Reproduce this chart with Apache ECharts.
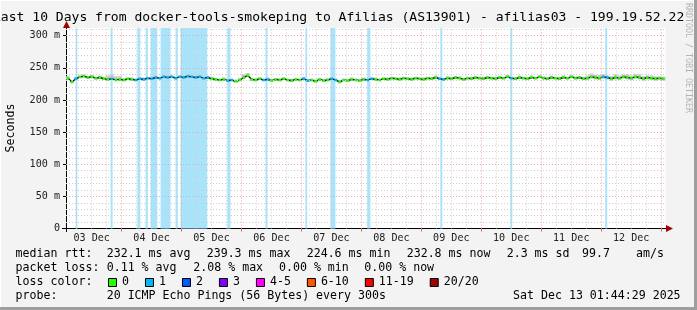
<!DOCTYPE html>
<html><head><meta charset="utf-8">
<script src="https://cdn.jsdelivr.net/npm/echarts@6/dist/echarts.min.js"></script>
<style>html,body{margin:0;padding:0;background:#f3f3f3;}#c{width:697px;height:310px;}</style>
</head><body><div id="c"></div>
<script>
// ---------------- data ----------------
const titleText = 'Last 10 Days from docker-tools-smokeping to Afilias (AS13901) - afilias03 - 199.19.52.22';
const watermarkText = 'RRDTOOL / TOBI OETIKER';
const yAxisName = 'Seconds';
const dayLabels = ['03 Dec','04 Dec','05 Dec','06 Dec','07 Dec','08 Dec','09 Dec','10 Dec','11 Dec','12 Dec'];
const dayLabelHours = [12,36,60,84,108,132,156,180,204,228];   // hours since 03 Dec 00:00 (noon)
const midnightHours = [24,48,72,96,120,144,168,192,216,240];
const yTicks = [0,50,100,150,200,250,300];                       // ms
const xMin = 1.74, xMax = 241.74;                                // 03 Dec 01:44 .. 13 Dec 01:44
const yMin = 0, yMax = 312;

const sampleStartHour = 2.5, sampleStepHour = 1.6;
const medianRtt = [
 234,228,233,236,237,235,236,234,235,233,
 232,233,231,232,231,233,232,231,233,232,
 234,233,235,234,236,235,236,234,236,235,
 237,236,235,236,234,235,233,232,231,232,
 230,231,229,231,235,238,232,231,233,231,
 232,230,232,231,233,231,230,232,231,233,
 230,231,229,232,230,231,233,231,228,231,
 230,232,231,230,232,231,233,232,231,233,
 232,234,233,232,234,233,232,234,233,232,
 234,233,235,233,232,234,233,235,234,232,
 234,233,235,234,233,235,234,233,235,234,
 236,234,233,235,234,233,235,234,236,234,
 233,235,234,233,235,234,236,234,235,233,
 234,236,235,234,236,235,233,235,234,236,
 235,234,236,235,233,235,234,233,234,233
];
const smokeUp = [
 3,2,3,2,3,2,3,2,3,3, 6,7,6,5,3,2,3,2,2,3, 2,3,2,2,3,2,2,3,2,2, 3,2,2,3,2,2,3,2,2,3,
 2,2,3,3,5,4,2,3,2,2, 3,2,2,3,2,2,3,2,2,3, 2,2,3,2,2,3,2,2,3,2, 2,3,2,2,3,2,2,3,2,2,
 3,2,2,3,2,2,3,2,2,3, 2,2,3,2,2,3,2,2,3,2, 2,3,2,2,3,2,2,3,2,2, 3,2,2,3,2,2,3,2,2,3,
 2,3,2,3,3,2,3,3,2,3, 4,5,4,5,4,3,4,5,4,4, 5,4,4,5,4,3,4,4,3,3
];
const smokeDown = [
 2,2,2,2,2,2,2,2,2,2, 2,2,2,2,2,2,2,2,2,2, 2,2,2,2,2,2,2,2,2,2, 2,2,2,2,2,2,2,2,2,2,
 2,2,2,2,2,2,2,2,2,2, 2,2,2,2,2,2,2,2,2,2, 2,2,2,2,2,2,2,2,2,2, 2,2,2,2,2,2,2,2,2,2,
 2,2,2,2,2,2,2,2,2,2, 2,2,2,2,2,2,2,2,2,2, 2,2,2,2,2,2,2,2,2,2, 2,2,2,2,2,2,2,2,2,2,
 2,2,2,2,2,2,2,2,2,2, 3,3,3,3,3,3,3,3,3,3, 3,3,3,3,3,3,3,3,3,3
];
// loss bars (hours since 03 Dec 00:00)
const lossStart = [5.6,19.6,30.3,33.6,35.6,39.6,45.6,47.6,66.3,81.6,97.6,107.6,122.3,151.6,179.6,217.6];
const lossEnd   = [6.3,20.4,31.5,34.5,38.3,43.6,46.5,58.3,67.6,82.4,98.3,109.6,123.6,152.4,180.4,218.4];

const lossLabels = ['0','1','2','3','4-5','6-10','11-19','20/20'];
const lossColors = ['#26ff00','#00b8ff','#0059ff','#7e00ff','#ff00ff','#ff5500','#ff0000','#a10000'];
const rttItems = ['232.1 ms avg','239.3 ms max','224.6 ms min','232.8 ms now','2.3 ms sd','99.7','am/s'];
const lossItems = ['0.11 % avg','2.08 % max','0.00 % min','0.00 % now'];
const probeText = '20 ICMP Echo Pings (56 Bytes) every 300s';
const dateText = 'Sat Dec 13 01:44:29 2025';

// ---------------- chart ----------------
const MONO = '"DejaVu Sans Mono", monospace';
const chart = echarts.init(document.getElementById('c'), null, {renderer:'canvas', width:697, height:310});

const sampleHours = medianRtt.map((_, i) => sampleStartHour + i * sampleStepHour);
const inLoss = h => lossStart.some((s, k) => h + sampleStepHour / 2 > s && h - sampleStepHour / 2 < lossEnd[k]);
const smokeData = medianRtt.map((m, i) => [sampleHours[i], m - smokeDown[i], m + smokeUp[i]]);
const medianData = medianRtt.map((m, i) => [sampleHours[i], m, inLoss(sampleHours[i]) ? 1 : 0]);
const lineData = medianRtt.map((m, i) => [sampleHours[i], m]);

const hMinor = [], hMajor = [], vMinor = [];
for (let v = 10; v <= 310; v += 10) (v % 50 === 0 ? hMajor : hMinor).push(v);
for (let h = 6; h < xMax; h += 6) if (h % 24 !== 0) vMinor.push(h);

const GRID_GRAY = '#cfcfcf', GRID_RED = '#eca3a3';
const gridLines = [
  ...hMinor.map(v => ({yAxis: v, lineStyle: {color: GRID_GRAY}})),
  ...vMinor.map(h => ({xAxis: h, lineStyle: {color: GRID_GRAY}})),
  ...hMajor.map(v => ({yAxis: v, lineStyle: {color: GRID_RED}})),
  ...midnightHours.map(h => ({xAxis: h, lineStyle: {color: GRID_RED}}))
];

const G = {left: 66, top: 28, right: 697 - 665.5, bottom: 310 - 228.5};

// legend graphics (layout positions)
const cw = 11.6 * 0.602;
const lx = 15.6, vx = 106.7;
const rows = [254, 268, 282, 296];
const rttX = [106.7, 206.7, 306.7, 406.7, 506.7, 582, 636];
const lossX = [106.7, 193.3, 279, 364.3];
const txt = (t, x, y, align) => ({type: 'text', x: x, y: y, silent: true,
  style: {text: t, font: '11.6px ' + MONO, fill: '#000', verticalAlign: 'middle', align: align || 'left'}});
const graphics = [
  // frame
  {type: 'rect', shape: {x: 0, y: 0, width: 697, height: 1}, style: {fill: '#ffffff'}, silent: true},
  {type: 'rect', shape: {x: 0, y: 0, width: 1, height: 310}, style: {fill: '#ffffff'}, silent: true},
  {type: 'rect', shape: {x: 694, y: 0, width: 3, height: 310}, style: {fill: '#9e9e9e'}, silent: true},
  {type: 'rect', shape: {x: 0, y: 307, width: 697, height: 3}, style: {fill: '#9e9e9e'}, silent: true},
  // title
  {type: 'text', x: -7, y: 18, silent: true, style: {text: titleText, font: '13.05px ' + MONO, fill: '#000', verticalAlign: 'middle', align: 'left'}},
  // watermark
  {type: 'text', x: 688.5, y: 58, rotation: -Math.PI / 2, silent: true, style: {text: watermarkText, font: '8.3px ' + MONO, fill: '#b4b4b4', verticalAlign: 'middle', align: 'center'}},
  // y name
  {type: 'text', x: 11, y: 128, rotation: Math.PI / 2, silent: true, style: {text: yAxisName, font: '11.6px ' + MONO, fill: '#000', verticalAlign: 'middle', align: 'center'}},
  // axis extensions + arrows
  {type: 'line', shape: {x1: 62, y1: 228.5, x2: 668, y2: 228.5}, style: {stroke: '#000', lineWidth: 1}, silent: true},
  {type: 'polygon', shape: {points: [[666, 225], [673, 228.5], [666, 232]]}, style: {fill: '#a00000'}, silent: true},
  {type: 'line', shape: {x1: 66.5, y1: 232, x2: 66.5, y2: 26}, style: {stroke: '#000', lineWidth: 1}, silent: true},
  {type: 'polygon', shape: {points: [[63, 28], [66.5, 21], [70, 28]]}, style: {fill: '#a00000'}, silent: true},
  txt('median rtt:', lx, rows[0]),
  txt('packet loss:', lx, rows[1]),
  txt('loss color:', lx, rows[2]),
  txt('probe:', lx, rows[3]),
  txt(probeText, vx, rows[3]),
  txt(dateText, 680.6, rows[3], 'right')
];
rttItems.forEach((t, i) => graphics.push(txt(t, rttX[i], rows[0])));
lossItems.forEach((t, i) => graphics.push(txt(t, lossX[i], rows[1])));
let bx = 108;
lossLabels.forEach((lab, i) => {
  graphics.push({type: 'rect', shape: {x: bx + 0.5, y: 278.5, width: 8, height: 8}, style: {fill: lossColors[i], stroke: '#000', lineWidth: 1}, silent: true});
  graphics.push(txt(lab, bx + 14, rows[2]));
  bx = bx + 14 + lab.length * cw + 16;
});

const option = {
  animation: false,
  backgroundColor: '#f3f3f3',
  grid: Object.assign({show: true, backgroundColor: '#ffffff', borderWidth: 0}, G),
  xAxis: {
    type: 'value', min: xMin, max: xMax,
    splitLine: {show: false},
    axisLine: {show: false},
    axisTick: {show: true, customValues: midnightHours, length: 3, lineStyle: {color: '#e06060'}},
    axisLabel: {customValues: dayLabelHours, margin: 5, fontFamily: MONO, fontSize: 10.1, color: '#222',
      formatter: v => dayLabels[dayLabelHours.indexOf(Math.round(v))] || ''}
  },
  yAxis: {
    type: 'value', min: yMin, max: yMax,
    splitLine: {show: false},
    axisLine: {show: false},
    axisTick: {show: true, customValues: yTicks, length: 3, lineStyle: {color: '#000'}},
    axisLabel: {customValues: yTicks, margin: 6, fontFamily: MONO, fontSize: 10.1, color: '#222',
      formatter: v => v === 0 ? '0' : v + ' m'}
  },
  series: [
    {
      type: 'line', data: [], z: 1, silent: true,
      markArea: {silent: true, itemStyle: {color: '#a8e4fc'},
        data: lossStart.map((s, k) => [{xAxis: s}, {xAxis: lossEnd[k]}])}
    },
    {
      type: 'line', data: [], z: 2, silent: true,
      markLine: {silent: true, symbol: 'none', label: {show: false}, animation: false,
        lineStyle: {type: [1, 2], width: 1}, data: gridLines}
    },
    {
      type: 'custom', z: 3, silent: true, clip: true, data: smokeData, encode: {x: 0, y: [1, 2]},
      renderItem: (p, api) => {
        const h = api.value(0), lo = api.value(1), hi = api.value(2);
        const a = api.coord([h - sampleStepHour / 2, hi]);
        const b = api.coord([h + sampleStepHour / 2, lo]);
        return {type: 'rect', shape: {x: a[0], y: a[1], width: b[0] - a[0], height: b[1] - a[1]}, style: {fill: '#c9c9c9'}};
      }
    },
    {
      type: 'line', z: 4, silent: true, data: lineData, symbol: 'none',
      lineStyle: {color: '#111', width: 1.4}
    },
    {
      type: 'custom', z: 5, silent: true, clip: true, data: medianData, encode: {x: 0, y: 1},
      renderItem: (p, api) => {
        const h = api.value(0), v = api.value(1), l = api.value(2);
        const a = api.coord([h - sampleStepHour / 2 + 0.3, v]);
        const b = api.coord([h + sampleStepHour / 2 - 0.3, v]);
        return {type: 'rect', shape: {x: a[0], y: a[1] - 1.25, width: b[0] - a[0], height: 2.5}, style: {fill: l ? lossColors[1] : lossColors[0]}};
      }
    }
  ],
  graphic: graphics
};
chart.setOption(option);
</script>
</body></html>
